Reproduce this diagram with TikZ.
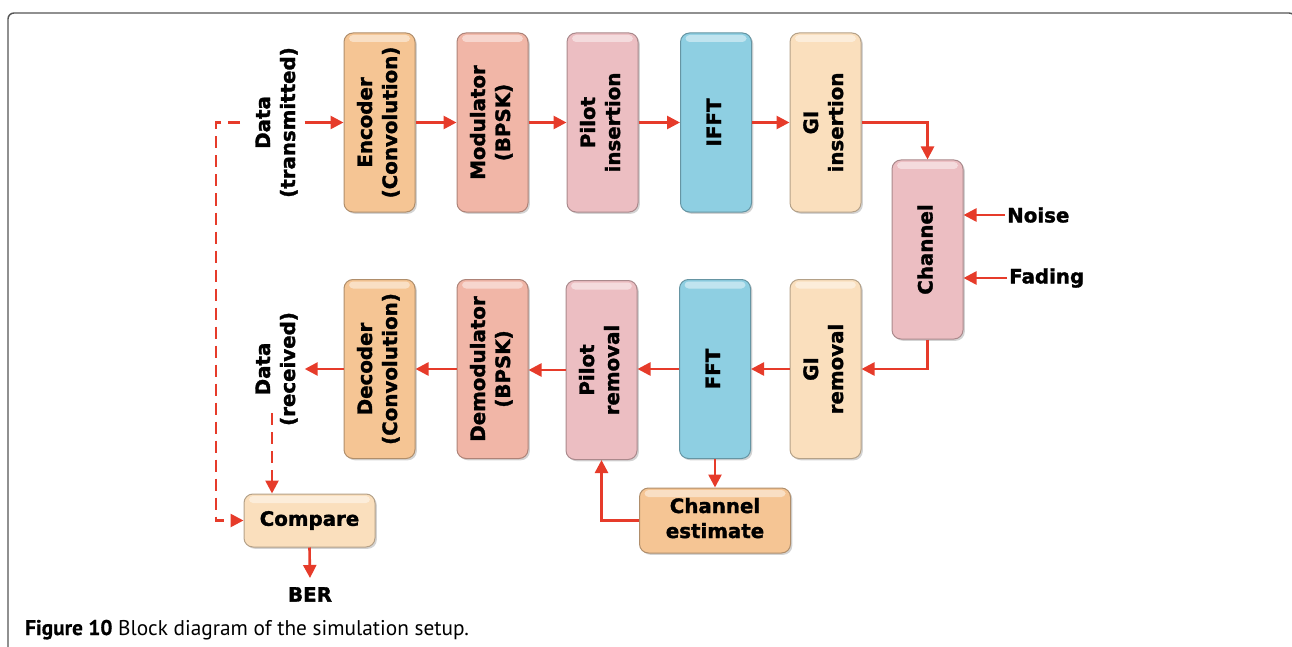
\documentclass[tikz,border=0pt]{standalone}
\usepackage{fontspec}
\usepackage{graphicx}
\usetikzlibrary{arrows.meta,shadows,calc}
\newfontfamily\labfont{DejaVu Sans}[BoldFeatures={FakeBold=1.6}]
\newfontfamily\capfont{PT Sans}[BoldFeatures={FakeBold=0.6}]
\newcommand{\labf}{\labfont\bfseries\fontsize{19.8}{25}\selectfont}
\newcommand{\vtxt}[1]{\rotatebox{90}{\begin{tabular}{@{}c@{}}#1\end{tabular}}}
\newcommand{\htxt}[1]{\begin{tabular}{@{}c@{}}#1\end{tabular}}
\definecolor{cEnc}{HTML}{F5C594}
\definecolor{cMod}{HTML}{F1B6A7}
\definecolor{cPil}{HTML}{ECBEC2}
\definecolor{cFft}{HTML}{8ECFE2}
\definecolor{cGi}{HTML}{FADFBD}
\definecolor{cArr}{HTML}{E63B2A}
\definecolor{cFrame}{HTML}{555555}
\begin{document}
\begin{tikzpicture}[x=1pt,y=-1pt,
  blk/.style={draw=#1!72!black, fill=#1, line width=1pt, rounded corners=9pt,
    inner sep=0pt, minimum width=71pt, minimum height=179pt, font=\labf,
    drop shadow={shadow xshift=1.8pt,shadow yshift=-1.8pt,opacity=0.35},
    path picture={\fill[white,opacity=0.45,rounded corners=4pt]
      ([xshift=5pt,yshift=-2pt]path picture bounding box.north west) rectangle
      ([xshift=-5pt,yshift=-9pt]path picture bounding box.north east);}},
  wblk/.style={blk=#1, minimum width=131pt, minimum height=53pt},
  lbl/.style={font=\labf, inner sep=2pt},
  arr/.style={draw=cArr, line width=2.6pt, -{Triangle[length=13pt,width=13pt]}},
  darr/.style={arr, dash pattern=on 12pt off 7pt}]
\useasboundingbox (0,0) rectangle (1292,647);
% frame
\draw[cFrame, line width=1.4pt, rounded corners=6pt] (8,660) -- (8,13) -- (1295,13) -- (1295,660);
% top row
\node[lbl] (dtx) at (277.5,122.5) {\vtxt{Data\\(transmitted)}};
\node[blk=cEnc] (enc) at (379.5,122.5) {\vtxt{Encoder\\(Convolution)}};
\node[blk=cMod] (mod) at (492.5,122.5) {\vtxt{Modulator\\(BPSK)}};
\node[blk=cPil] (pil) at (602.5,122.5) {\vtxt{Pilot\\insertion}};
\node[blk=cFft] (ifft) at (716,122.5) {\vtxt{IFFT}};
\node[blk=cGi] (gii) at (825.5,122.5) {\vtxt{GI\\insertion}};
\node[blk=cPil] (chn) at (927.5,249.5) {\vtxt{Channel}};
\node[lbl, anchor=west] (noise) at (1005,215) {Noise};
\node[lbl, anchor=west] (fading) at (1007,278) {Fading};
% bottom row
\node[lbl] (drx) at (277.5,369) {\vtxt{Data\\(received)}};
\node[blk=cEnc] (dec) at (379.5,369) {\vtxt{Decoder\\(Convolution)}};
\node[blk=cMod] (dem) at (492.5,369) {\vtxt{Demodulator\\(BPSK)}};
\node[blk=cPil] (pir) at (601.5,370) {\vtxt{Pilot\\removal}};
\node[blk=cFft] (fft) at (715,369) {\vtxt{FFT}};
\node[blk=cGi] (gir) at (825.5,369) {\vtxt{GI\\removal}};
\node[wblk=cEnc, minimum width=151pt, minimum height=65pt] (cest) at (715,520.5) {\htxt{Channel\\estimate}};
\node[wblk=cGi] (cmp) at (309.5,520.5) {Compare};
\node[lbl, anchor=north, inner ysep=9pt] (ber) at (310,578) {BER};
\node[anchor=base west, inner sep=0pt, font=\capfont\fontsize{21.3}{24}\selectfont] (cap) at (25,635)
  {\textbf{Figure 10} Block diagram of the simulation setup.};
% arrows
\draw[arr] (dtx) -- (enc);
\draw[arr] (enc) -- (mod);
\draw[arr] (mod) -- (pil);
\draw[arr] (pil) -- (ifft);
\draw[arr] (ifft) -- (gii);
\draw[arr] (gii.east) -| (chn.north);
\draw[arr] (noise.west) -- (noise.west -| chn.east);
\draw[arr] (fading.west) -- (fading.west -| chn.east);
\draw[arr] (chn.south) |- (gir.east);
\draw[arr] (gir) -- (fft);
\draw[arr] (fft.west) -- (fft.west -| pir.east);
\draw[arr] (pir.west) -- (pir.west -| dem.east);
\draw[arr] (dem) -- (dec);
\draw[arr] (dec) -- (drx);
\draw[arr] (fft.south) -- (cest.north);
\draw[arr] (cest.west) -| (pir.south);
\draw[arr] (cmp.south) -- (ber.north);
\coordinate (dts) at (240,122.5);
\coordinate (drs) at (272,413);
\draw[darr] (dts) -- (216,122.5) |- (cmp.west);
\draw[darr] (drs) -- (drs |- cmp.north);
\end{tikzpicture}
\end{document}
